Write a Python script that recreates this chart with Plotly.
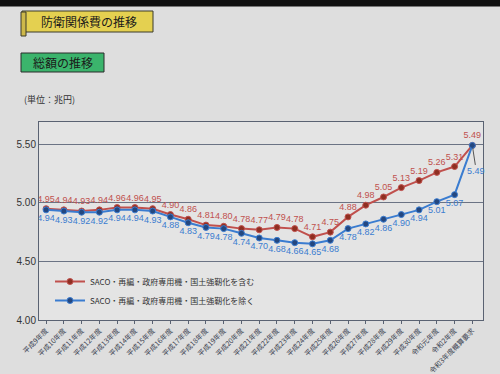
import plotly.graph_objects as go

categories = ["平成9年度", "平成10年度", "平成11年度", "平成12年度", "平成13年度", "平成14年度",
              "平成15年度", "平成16年度", "平成17年度", "平成18年度", "平成19年度", "平成20年度",
              "平成21年度", "平成22年度", "平成23年度", "平成24年度", "平成25年度", "平成26年度",
              "平成27年度", "平成28年度", "平成29年度", "平成30年度", "令和元年度", "令和2年度",
              "令和3年度概算要求"]
incl_values = [4.95, 4.94, 4.93, 4.94, 4.96, 4.96, 4.95, 4.90, 4.86, 4.81, 4.80, 4.78, 4.77,
               4.79, 4.78, 4.71, 4.75, 4.88, 4.98, 5.05, 5.13, 5.19, 5.26, 5.31, 5.49]
excl_values = [4.94, 4.93, 4.92, 4.92, 4.94, 4.94, 4.93, 4.88, 4.83, 4.79, 4.78, 4.74, 4.70,
               4.68, 4.66, 4.65, 4.68, 4.78, 4.82, 4.86, 4.90, 4.94, 5.01, 5.07, 5.49]
incl_name = "SACO・再編・政府専用機・国土強靭化を含む"
excl_name = "SACO・再編・政府専用機・国土強靭化を除く"
y_ticks = [4.00, 4.50, 5.00, 5.50]

JP = "Noto Sans CJK JP"
NUM = "Liberation Sans"

# pixel helpers (plot area: x 39..483, y 122..320)
L, T, W, H = 39, 122, 444, 198
def xp(px):
    return (px - L) / W
def yp(py):
    return (T + H - py) / H

red = "#c0504d"
red_dark = "#8e2f22"
blue = "#3a7cd0"
blue_dark = "#24477f"

fig = go.Figure()
fig.add_trace(go.Scatter(
    x=categories, y=incl_values, name=incl_name, mode="lines+markers+text",
    line=dict(color=red, width=2),
    marker=dict(color=red_dark, size=6, line=dict(color=red, width=1)),
    text=[f"{v:.2f}" for v in incl_values], textposition="top center",
    textfont=dict(color="#c0504d", size=9, family=NUM),
))
excl_text = [f"{v:.2f}" for v in excl_values]
excl_text[-1] = ""
fig.add_trace(go.Scatter(
    x=categories, y=excl_values, name=excl_name, mode="lines+markers+text",
    line=dict(color=blue, width=2),
    marker=dict(color=blue_dark, size=6, line=dict(color=blue, width=1)),
    text=excl_text, textposition="bottom center",
    textfont=dict(color="#3a7cd0", size=9, family=NUM),
))

annotations = [
    dict(x=categories[-1], y=excl_values[-1], xref="x", yref="y",
         text=f"{excl_values[-1]:.2f}", showarrow=True, arrowhead=0, arrowwidth=1,
         arrowcolor="#555555", ax=4, ay=26, standoff=3,
         font=dict(color="#3a7cd0", size=9, family=NUM)),
    dict(x=xp(89), y=yp(21.5), xref="paper", yref="paper", text="防衛関係費の推移",
         xanchor="center", yanchor="middle",
         showarrow=False, font=dict(size=12, color="#1a1a1a", family=JP)),
    dict(x=xp(62.5), y=yp(62.5), xref="paper", yref="paper", text="総額の推移",
         xanchor="center", yanchor="middle",
         showarrow=False, font=dict(size=12, color="#1a1a1a", family=JP)),
    dict(x=xp(22), y=yp(100), xref="paper", yref="paper", text="(単位：兆円)",
         xanchor="left", yanchor="middle",
         showarrow=False, font=dict(size=9, color="#333333", family=JP)),
]

shapes = [
    dict(type="line", xref="paper", yref="paper", x0=xp(0), x1=xp(500), y0=yp(3), y1=yp(3),
         line=dict(color="#111111", width=7), layer="above"),
    dict(type="rect", xref="paper", yref="paper", x0=xp(22), x1=xp(153), y0=yp(32), y1=yp(11),
         fillcolor="#e4d050", line=dict(color="#3a3a2a", width=1), layer="below"),
    dict(type="rect", xref="paper", yref="paper", x0=xp(21), x1=xp(26), y0=yp(36), y1=yp(12),
         fillcolor="#cdb84a", line=dict(color="#3a3a2a", width=1), layer="below"),
    dict(type="rect", xref="paper", yref="paper", x0=xp(21), x1=xp(104), y0=yp(72), y1=yp(53),
         fillcolor="#3bb46c", line=dict(color="#2a2a2a", width=1), layer="below"),
]

fig.update_layout(
    width=500, height=374,
    margin=dict(l=L, r=500 - L - W, t=T, b=374 - T - H, autoexpand=False),
    paper_bgcolor="#dedede", plot_bgcolor="#e4e4e4",
    showlegend=True,
    legend=dict(x=xp(50), y=yp(267), xanchor="left", yanchor="top",
                bgcolor="rgba(0,0,0,0)", font=dict(size=8, color="#333333", family=JP),
                tracegroupgap=4, itemwidth=30),
    annotations=annotations, shapes=shapes,
    xaxis=dict(type="category", range=[-0.4, 24.6], tickangle=-45, automargin=False,
               tickfont=dict(size=7, color="#3a4250", family=JP),
               showline=True, linecolor="#5a6272", linewidth=1, mirror=True,
               ticks="outside", ticklen=3, tickcolor="#5a6272", showgrid=False),
    yaxis=dict(range=[4.0, 5.69], tickvals=y_ticks, tickformat=".2f", automargin=False,
               tickfont=dict(size=10, color="#333333", family=NUM),
               showline=True, linecolor="#5a6272", linewidth=1, mirror=True,
               showgrid=True, gridcolor="#6b7384", gridwidth=1, zeroline=False),
)

fig.write_html("out.html", config={"displayModeBar": False},
               post_script="document.body.style.margin='0';")
